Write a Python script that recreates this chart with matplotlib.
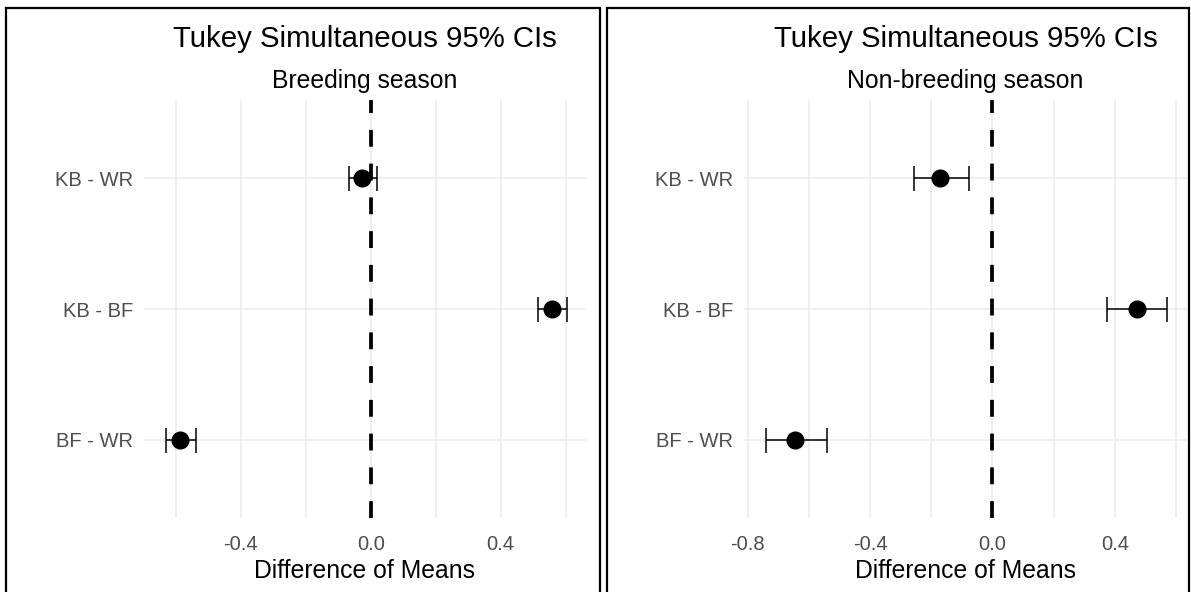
import matplotlib.pyplot as plt
from matplotlib.patches import Rectangle

plt.rcParams['font.family'] = ['Liberation Sans', 'DejaVu Sans']
plt.rcParams['axes.unicode_minus'] = False

# Tukey HSD results, bottom to top
comparisons = ["BF - WR", "KB - BF", "KB - WR"]

breeding_diff = [-0.587, 0.559, -0.026]
breeding_lwr = [-0.631, 0.514, -0.068]
breeding_upr = [-0.537, 0.605, 0.019]

nonbreeding_diff = [-0.644, 0.474, -0.171]
nonbreeding_lwr = [-0.740, 0.376, -0.256]
nonbreeding_upr = [-0.542, 0.572, -0.078]

breeding_ticks = [-0.4, 0.0, 0.4]
nonbreeding_ticks = [-0.8, -0.4, 0.0, 0.4]
minor_ticks = [-0.6, -0.2, 0.2, 0.6]

W, H = 1191, 592
GRID = '#EBEBEB'
TEXT_GREY = '#4D4D4D'


def plot_panel(ax, diff, lwr, upr, subtitle, ticks, xlim):
    ypos = list(range(1, len(comparisons) + 1))
    xerr = [[d - lo for d, lo in zip(diff, lwr)], [hi - d for d, hi in zip(diff, upr)]]
    ax.errorbar(diff, ypos, xerr=xerr, fmt='o', color='black', markersize=12,
                elinewidth=1.1, capsize=9, capthick=1.1, zorder=3)
    ax.axvline(0, color='black', lw=2.7, linestyle=(0, (4.5, 4.5)), zorder=4)

    ax.set_xlim(*xlim)
    ax.set_ylim(0.4, len(comparisons) + 0.6)
    ax.set_yticks(ypos)
    ax.set_yticklabels(comparisons)
    ax.set_xticks(ticks)
    ax.set_xticklabels([f"{t:.1f}" for t in ticks])
    ax.set_xticks([t for t in minor_ticks if xlim[0] < t < xlim[1]], minor=True)

    ax.grid(which='both', color=GRID, lw=1.1)
    ax.set_axisbelow(True)
    for s in ax.spines.values():
        s.set_visible(False)
    ax.tick_params(which='both', length=0)
    ax.tick_params(axis='y', labelsize=14.5, labelcolor=TEXT_GREY, pad=8)
    ax.tick_params(axis='x', labelsize=14.5, labelcolor=TEXT_GREY, pad=12)
    ax.set_xlabel("Difference of Means", fontsize=17.8, labelpad=3.5)

    ax.text(0.5, 1.0 + 12 / 418.3, subtitle, transform=ax.transAxes,
            ha='center', va='baseline', fontsize=17.8)
    ax.text(0.5, 1.0 + 53 / 418.3, "Tukey Simultaneous 95% CIs", transform=ax.transAxes,
            ha='center', va='baseline', fontsize=21.2)


fig = plt.figure(figsize=(W / 100, H / 100), dpi=100)
ax1 = fig.add_axes([144 / W, 1 - 518.3 / H, 441.7 / W, 418.3 / H])
ax2 = fig.add_axes([744.3 / W, 1 - 518.3 / H, 442.7 / W, 418.3 / H])

plot_panel(ax1, breeding_diff, breeding_lwr, breeding_upr, "Breeding season",
           breeding_ticks, (-0.6975, 0.6615))
plot_panel(ax2, nonbreeding_diff, nonbreeding_lwr, nonbreeding_upr, "Non-breeding season",
           nonbreeding_ticks, (-0.811, 0.636))

# black frames around the two panels
for x0, x1 in [(6, 600), (607, 1189)]:
    fig.add_artist(Rectangle((x0 / W, -0.05), (x1 - x0) / W, 1.05 - 7.8 / H,
                             transform=fig.transFigure, fill=False,
                             edgecolor='black', lw=1.6))

fig.savefig('out.png', dpi=100)
